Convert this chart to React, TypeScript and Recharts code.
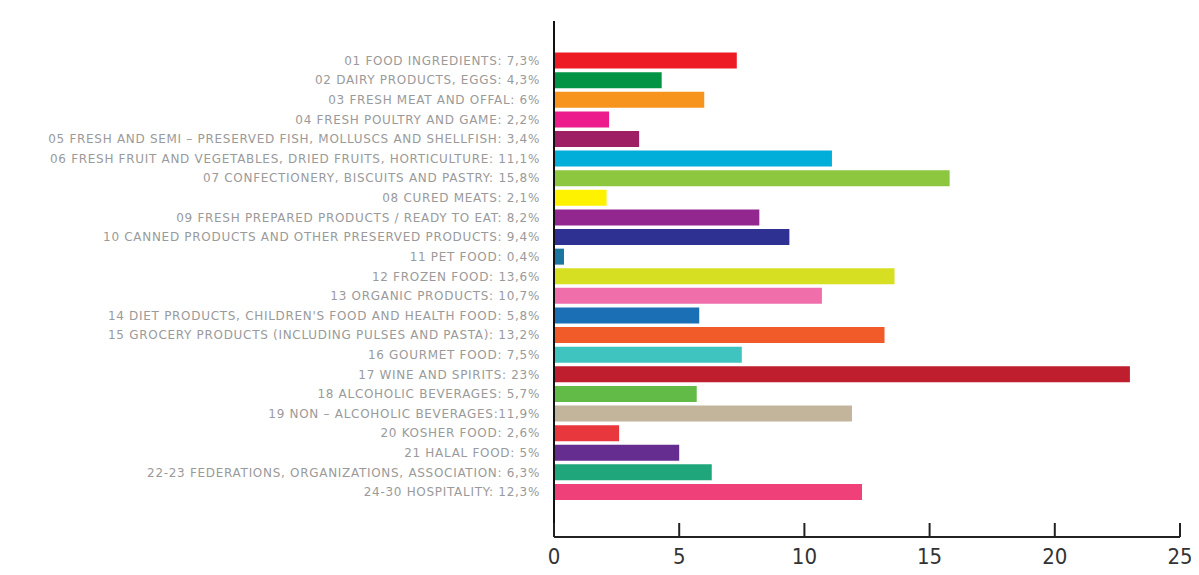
import { BarChart, Bar, XAxis, YAxis, Cell } from 'recharts';

const categories = [
    '01 FOOD INGREDIENTS: 7,3%',
    '02 DAIRY PRODUCTS, EGGS: 4,3%',
    '03 FRESH MEAT AND OFFAL: 6%',
    '04 FRESH POULTRY AND GAME: 2,2%',
    '05 FRESH AND SEMI – PRESERVED FISH, MOLLUSCS AND SHELLFISH: 3,4%',
    '06 FRESH FRUIT AND VEGETABLES, DRIED FRUITS, HORTICULTURE: 11,1%',
    '07 CONFECTIONERY, BISCUITS AND PASTRY: 15,8%',
    '08 CURED MEATS: 2,1%',
    '09 FRESH PREPARED PRODUCTS / READY TO EAT: 8,2%',
    '10 CANNED PRODUCTS AND OTHER PRESERVED PRODUCTS: 9,4%',
    '11 PET FOOD: 0,4%',
    '12 FROZEN FOOD: 13,6%',
    '13 ORGANIC PRODUCTS: 10,7%',
    "14 DIET PRODUCTS, CHILDREN'S FOOD AND HEALTH FOOD: 5,8%",
    '15 GROCERY PRODUCTS (INCLUDING PULSES AND PASTA): 13,2%',
    '16 GOURMET FOOD: 7,5%',
    '17 WINE AND SPIRITS: 23%',
    '18 ALCOHOLIC BEVERAGES: 5,7%',
    '19 NON – ALCOHOLIC BEVERAGES:11,9%',
    '20 KOSHER FOOD: 2,6%',
    '21 HALAL FOOD: 5%',
    '22-23 FEDERATIONS, ORGANIZATIONS, ASSOCIATION: 6,3%',
    '24-30 HOSPITALITY: 12,3%',
];

const values = [7.3, 4.3, 6, 2.2, 3.4, 11.1, 15.8, 2.1, 8.2, 9.4, 0.4, 13.6, 10.7, 5.8, 13.2, 7.5, 23, 5.7, 11.9, 2.6, 5, 6.3, 12.3];

const colors = [
    '#ed1c24', '#009444', '#f7941d', '#ec1c8c', '#9e1f63', '#00aeda', '#8dc63f', '#fff200',
    '#92278f', '#2e3192', '#1b75a0', '#d7df23', '#f06eaa', '#1b6fb5', '#f15a29', '#40c4c0',
    '#be1e2d', '#62bb46', '#c2b59b', '#e8383d', '#662d91', '#1fa67a', '#f0407a',
];

const xTicks = [0, 5, 10, 15, 20, 25];

const data = categories.map((name, i) => ({ name, value: values[i] }));

// tick marks point up into the plot, label sits below the axis
const XTick = (props: any) => {
    const { x, y, payload } = props;
    return (
        <g>
            <line x1={x} y1={y - 14} x2={x} y2={y} stroke="#222" strokeWidth={2} />
            <text x={x} y={y + 27} textAnchor="middle" fontSize={22} fill="#333"
                fontFamily="'DejaVu Sans Condensed', 'DejaVu Sans'">
                {payload.value}
            </text>
        </g>
    );
};

// plain text so long labels stay on one line
const YTick = (props: any) => {
    const { x, y, payload } = props;
    return (
        <text x={x} y={y} dy={4} textAnchor="end" fontSize={12} fill="#9a9a9a"
            fontFamily="DejaVu Sans" letterSpacing={0.7}>
            {payload.value}
        </text>
    );
};

export default function App() {
    return (
        <div style={{ width: 1190, height: 567, background: '#fff' }}>
            <BarChart
                width={1190}
                height={567}
                data={data}
                layout="vertical"
                margin={{ top: 13, right: 18, bottom: 8, left: 0 }}
                barCategoryGap="8%"
            >
                <XAxis
                    type="number"
                    domain={[0, 25]}
                    ticks={xTicks}
                    tickSize={0}
                    tickMargin={0}
                    tickLine={false}
                    tick={<XTick />}
                    axisLine={{ stroke: '#222', strokeWidth: 2 }}
                    height={30}
                    interval={0}
                />
                <YAxis
                    type="category"
                    dataKey="name"
                    width={546}
                    interval={0}
                    tickLine={false}
                    tickSize={0}
                    tickMargin={14}
                    padding={{ top: 30, bottom: 35 }}
                    axisLine={{ stroke: '#111', strokeWidth: 2 }}
                    tick={<YTick />}
                />
                <Bar dataKey="value" isAnimationActive={false}>
                    {data.map((entry, index) => (
                        <Cell key={`cell-${index}`} fill={colors[index]} />
                    ))}
                </Bar>
            </BarChart>
        </div>
    );
}
